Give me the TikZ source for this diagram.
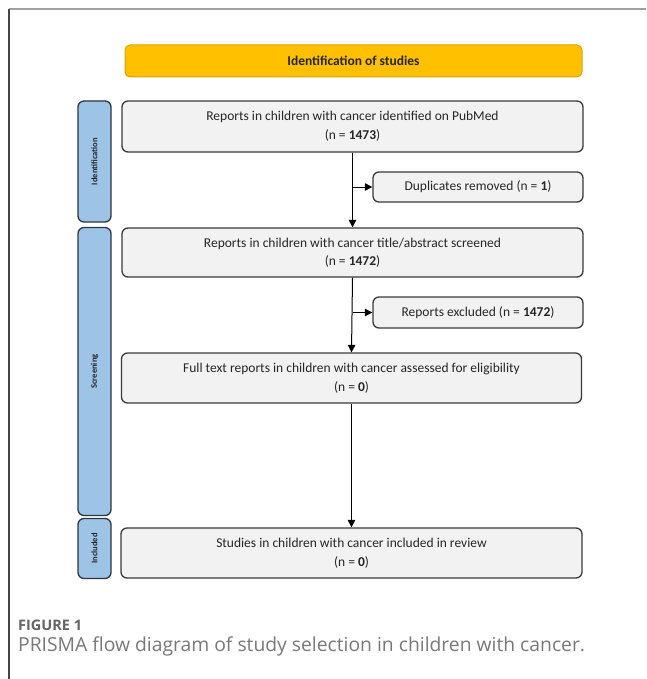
\documentclass[tikz,border=0pt]{standalone}
\usepackage{fontspec}
\setmainfont{Carlito}
\newfontfamily\capfont{Open Sans}
\usetikzlibrary{arrows.meta}
\definecolor{boxfill}{HTML}{F2F2F2}
\definecolor{boxline}{HTML}{3A3A3A}
\definecolor{sidefill}{HTML}{9DC3E6}
\definecolor{sideline}{HTML}{2E3640}
\definecolor{orangefill}{HTML}{FFC000}
\definecolor{orangeline}{HTML}{D9A400}
\definecolor{txt}{HTML}{262626}
\tikzset{
  stagebox/.style={draw=boxline, fill=boxfill, line width=1.3pt, rounded corners=6pt,
    inner sep=0pt, align=center, text=txt, font=\fontsize{13.5}{18.5}\selectfont},
  sidebox/.style={draw=sideline, fill=sidefill, line width=1.3pt, rounded corners=6pt,
    inner sep=0pt, minimum width=33pt, text=txt},
  sidetext/.style={rotate=90, font=\fontsize{8.5}{9}\selectfont\bfseries, text=txt},
  arr/.style={-{Triangle[length=7.5pt,width=7.5pt]}, line width=1pt, draw=black},
}
\begin{document}
\begin{tikzpicture}[x=1pt,y=-1pt]
\useasboundingbox (0,0) rectangle (646,679);
% frame
\draw[draw={rgb,255:red,160;green,160;blue,160}, line width=2pt] (9,9.5) -- (646,9.5);
\draw[draw={rgb,255:red,70;green,70;blue,70}, line width=1.2pt] (9,9) -- (9,679);
% title
\node[draw=orangeline, fill=orangefill, line width=1pt, rounded corners=5pt,
  minimum width=457pt, minimum height=32pt, inner sep=0pt,
  font=\fontsize{13.5}{15}\selectfont\bfseries, text=txt] (title) at (353.5,61) {Identification of studies};
% side boxes
\node[sidebox, minimum height=121pt] (s1) at (94.5,161.5) {};
\node[sidetext] (s1t) at (s1.center) {Identification};
\node[sidebox, minimum height=288pt] (s2) at (94.5,371.5) {};
\node[sidetext] (s2t) at (s2.center) {Screening};
\node[sidebox, minimum height=60pt] (s3) at (94.5,548.5) {};
\node[sidetext] (s3t) at (s3.center) {Included};
% main boxes
\node[stagebox, minimum width=461pt, minimum height=51pt] (b1) at (352.5,126.5)
  {Reports in children with cancer identified on PubMed\\(n = \textbf{1473})};
\node[stagebox, minimum width=210pt, minimum height=30pt] (dup) at (478,187)
  {Duplicates removed (n = \textbf{1})};
\node[stagebox, minimum width=461pt, minimum height=49pt] (b2) at (352.5,252.5)
  {Reports in children with cancer title/abstract screened\\(n = \textbf{1472})};
\node[stagebox, minimum width=210pt, minimum height=31pt] (exc) at (478,312.5)
  {Reports excluded (n = \textbf{1472})};
\node[stagebox, minimum width=460pt, minimum height=50pt] (b3) at (351.5,378)
  {Full text reports in children with cancer assessed for eligibility\\(n = \textbf{0})};
\node[stagebox, minimum width=461pt, minimum height=50pt] (b4) at (351.5,553)
  {Studies in children with cancer included in review\\(n = \textbf{0})};
% connectors
\draw[arr] (b1.south) -- (b2.north);
\draw[arr] (b1.south |- dup.west) -- (dup.west);
\draw[arr] (b2.south) -- (b3.north);
\draw[arr] (b2.south |- exc.west) -- (exc.west);
\draw[arr] (b3.south) -- (b4.north);
% caption
\node[anchor=base west, inner sep=0pt, font=\capfont\fontsize{14.5}{16}\selectfont\bfseries,
  text={rgb,255:red,100;green,100;blue,100}] (cap1) at (18,630) {FIGURE 1};
\node[anchor=base west, inner sep=0pt, font=\capfont\fontsize{19.3}{22}\selectfont,
  text={rgb,255:red,120;green,120;blue,120}] (cap2) at (18,651.5)
  {PRISMA flow diagram of study selection in children with cancer.};
\end{tikzpicture}
\end{document}
